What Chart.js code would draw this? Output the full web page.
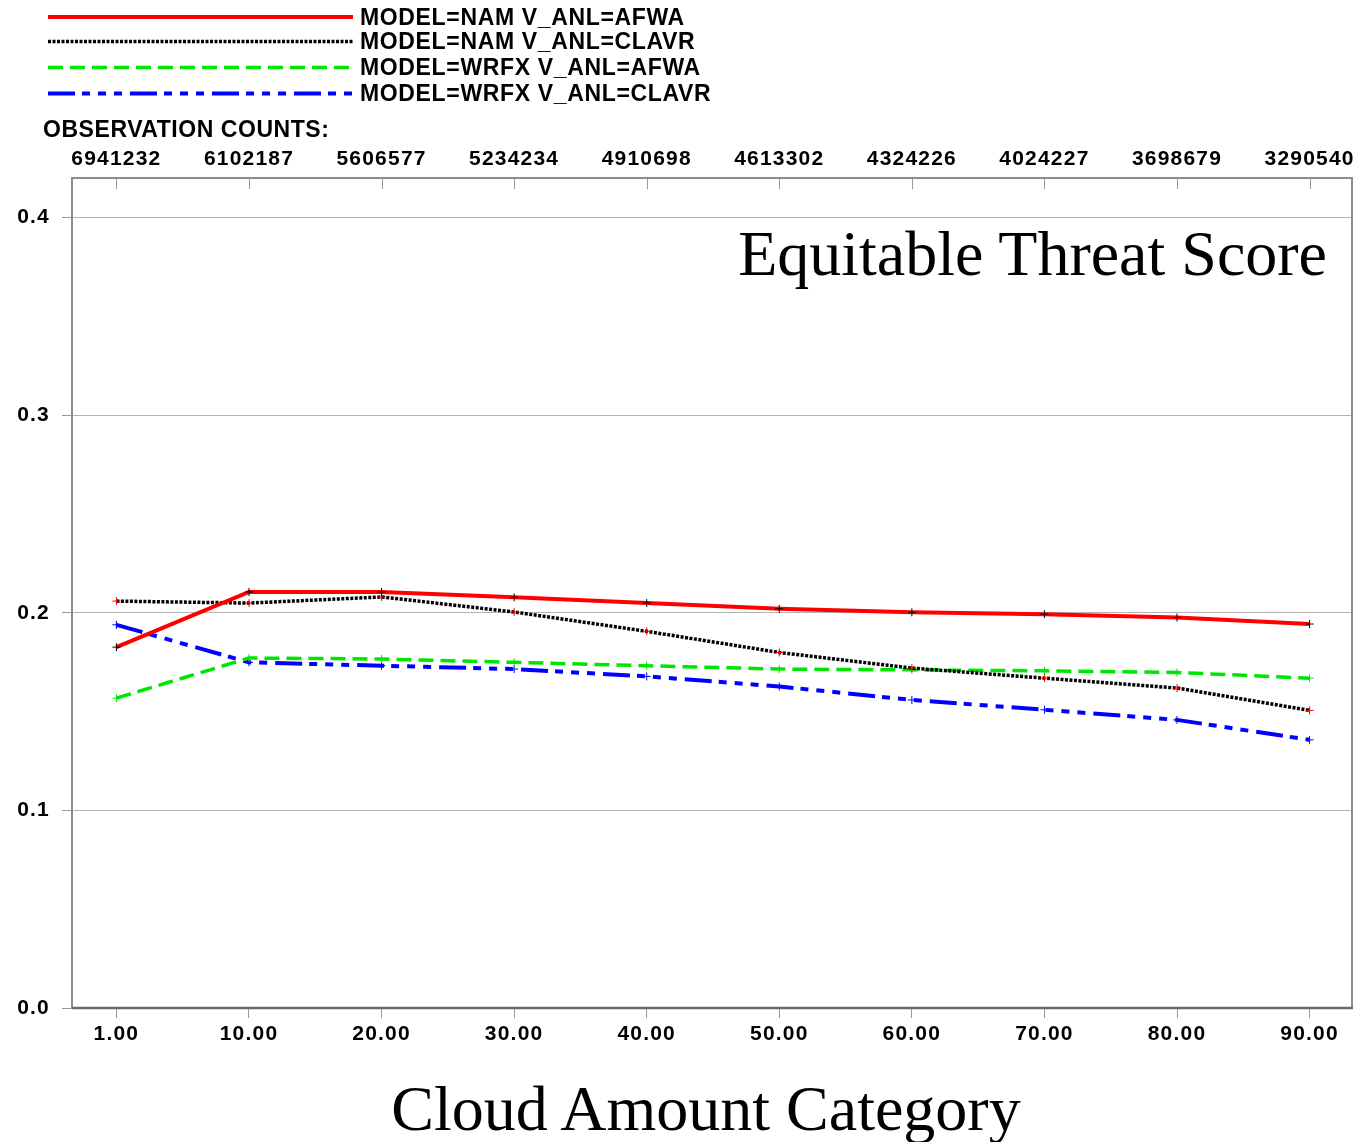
<!DOCTYPE html>
<html>
<head>
<meta charset="utf-8">
<script src="https://cdn.jsdelivr.net/npm/chart.js@4.4.1/dist/chart.umd.min.js"></script>
<style>
html,body{margin:0;padding:0;background:#fff;}
#wrap{position:relative;width:1357px;height:1142px;overflow:hidden;background:#fff;}
#c{position:absolute;left:0;top:0;}
.lgtext{position:absolute;left:360px;font:bold 23px "Liberation Sans",Arial,sans-serif;letter-spacing:0.65px;line-height:23px;height:23px;color:#000;white-space:nowrap;}
.obs{position:absolute;left:43px;font:bold 23px "Liberation Sans",Arial,sans-serif;letter-spacing:0.55px;line-height:23px;color:#000;white-space:nowrap;}
.serif{position:absolute;font:64px "Liberation Serif","Times New Roman",serif;line-height:64px;color:#000;white-space:nowrap;}
svg.lg{position:absolute;left:0;top:0;}
</style>
</head>
<body>
<div id="wrap">
  <canvas id="c" width="1357" height="1142"></canvas>
  <svg class="lg" id="lgsvg" width="360" height="110"></svg>
  <div id="lgtexts"></div>
  <div class="obs" style="top:117.5px;">OBSERVATION COUNTS:</div>
  <div class="serif" style="right:30px;top:222px;">Equitable Threat Score</div>
  <div class="serif" style="left:706px;top:1077px;transform:translateX(-50%);">Cloud Amount Category</div>
</div>
<script>
// ---- data ----
const categories = ['1.00','10.00','20.00','30.00','40.00','50.00','60.00','70.00','80.00','90.00'];
const obsCounts = ['6941232','6102187','5606577','5234234','4910698','4613302','4324226','4024227','3698679','3290540'];
const namAfwa   = [0.1826,0.2105,0.2105,0.2078,0.2049,0.2020,0.2002,0.1993,0.1976,0.1943];
const namClavr  = [0.2059,0.2049,0.2080,0.2004,0.1906,0.1799,0.1720,0.1669,0.1619,0.1506];
const wrfxAfwa  = [0.1568,0.1771,0.1766,0.1749,0.1732,0.1715,0.1711,0.1706,0.1698,0.1669];
const wrfxClavr = [0.1939,0.1749,0.1732,0.1715,0.1678,0.1627,0.1559,0.1509,0.1458,0.1357];
const seriesNames = ['MODEL=NAM V_ANL=AFWA','MODEL=NAM V_ANL=CLAVR','MODEL=WRFX V_ANL=AFWA','MODEL=WRFX V_ANL=CLAVR'];
const yTicks = [0, 0.1, 0.2, 0.3, 0.4];

// ---- styles ----
const styles = [
  {color:'#ff0000', width:4,   dash:[],                     point:'#000000'},
  {color:'#000000', width:3.5, dash:[3,1.5],                point:'#ff0000'},
  {color:'#00e600', width:3.5, dash:[15,7],                 point:'#00e600'},
  {color:'#0000ff', width:4,   dash:[27,7,8,8,8,8,8,8],     point:'#0000ff'}
];
const seriesValues = [namAfwa, namClavr, wrfxAfwa, wrfxClavr];

// ---- legend (HTML/SVG) ----
const rows = [17, 41.5, 67.5, 93.5];
const svg = document.getElementById('lgsvg');
const lgt = document.getElementById('lgtexts');
seriesNames.forEach((name, i) => {
  const s = styles[i];
  const ln = document.createElementNS('http://www.w3.org/2000/svg','line');
  ln.setAttribute('x1', 48); ln.setAttribute('x2', 353);
  ln.setAttribute('y1', rows[i]); ln.setAttribute('y2', rows[i]);
  ln.setAttribute('stroke', s.color); ln.setAttribute('stroke-width', s.width);
  if (s.dash.length) ln.setAttribute('stroke-dasharray', s.dash.join(','));
  svg.appendChild(ln);
  const d = document.createElement('div');
  d.className = 'lgtext';
  d.style.top = (rows[i] - 11.5) + 'px';
  d.textContent = name;
  lgt.appendChild(d);
});

const tickFont = {family:'"Liberation Sans", Arial, sans-serif', size:21, weight:'bold'};
const X_MIN = -0.335, X_MAX = 9.32;

const framePlugin = {
  id: 'frame',
  beforeDraw(chart) { chart.ctx.letterSpacing = '1.2px'; },
  beforeDatasetsDraw(chart) {
    const {ctx, chartArea: a} = chart;
    ctx.save();
    ctx.letterSpacing = '0px';
    ctx.strokeStyle = '#8c8c8c';
    ctx.lineWidth = 2;
    ctx.strokeRect(a.left, a.top, a.right - a.left, a.bottom - a.top);
    ctx.strokeStyle = '#6a6a6a';
    ctx.lineWidth = 2.5;
    ctx.beginPath(); ctx.moveTo(a.left, a.bottom); ctx.lineTo(a.right + 1, a.bottom); ctx.stroke();
    // inner ticks of top axis
    const x2 = chart.scales.x2;
    ctx.strokeStyle = '#999';
    ctx.lineWidth = 1;
    x2.ticks.forEach(t => {
      const px = Math.round(x2.getPixelForValue(t.value)) + 0.5;
      ctx.beginPath(); ctx.moveTo(px, a.top); ctx.lineTo(px, a.top + 11); ctx.stroke();
    });
    ctx.restore();
  }
};

const noSidePad = s => { s.paddingLeft = 0; s.paddingRight = 0; };

new Chart(document.getElementById('c').getContext('2d'), {
  type: 'line',
  data: {
    datasets: seriesValues.map((vals, i) => ({
      label: seriesNames[i],
      data: vals.map((v, k) => ({x: k, y: v})),
      borderColor: styles[i].color,
      backgroundColor: styles[i].color,
      borderWidth: styles[i].width,
      borderDash: styles[i].dash,
      borderCapStyle: 'butt',
      tension: 0,
      fill: false,
      pointStyle: 'cross',
      pointRadius: 4,
      pointBorderWidth: 1,
      pointBorderColor: styles[i].point,
      xAxisID: 'x',
      yAxisID: 'y'
    }))
  },
  options: {
    responsive: false,
    animation: false,
    layout: {padding: {left: 0, right: 2, top: 0, bottom: 0}},
    plugins: {legend: {display: false}, tooltip: {enabled: false}},
    scales: {
      x: {
        type: 'linear', position: 'bottom', min: X_MIN, max: X_MAX,
        afterBuildTicks: s => { s.ticks = categories.map((_, i) => ({value: i})); },
        afterFit: s => { s.height = 134; noSidePad(s); },
        ticks: {callback: v => categories[v], autoSkip: false, maxRotation: 0, padding: 4, font: tickFont, color: '#000'},
        grid: {drawOnChartArea: false, drawTicks: true, tickLength: 10, tickColor: '#999', tickWidth: 1},
        border: {display: false}
      },
      x2: {
        type: 'linear', position: 'top', min: X_MIN, max: X_MAX,
        afterBuildTicks: s => { s.ticks = obsCounts.map((_, i) => ({value: i})); },
        afterFit: s => { s.height = 178; noSidePad(s); },
        ticks: {callback: v => obsCounts[v], autoSkip: false, maxRotation: 0, padding: 6, font: tickFont, color: '#000'},
        grid: {drawOnChartArea: false, drawTicks: false},
        border: {display: false}
      },
      y: {
        type: 'linear', position: 'left', min: 0, max: 0.42,
        afterBuildTicks: s => { s.ticks = yTicks.map(v => ({value: v})); },
        afterFit: s => { s.width = 72; s.paddingTop = 0; s.paddingBottom = 0; },
        ticks: {callback: v => v.toFixed(1), padding: 12, font: tickFont, color: '#000'},
        grid: {color: '#b4b4b4', lineWidth: 1, drawTicks: true, tickLength: 10, tickColor: '#999'},
        border: {display: false}
      }
    }
  },
  plugins: [framePlugin]
});
</script>
</body>
</html>
